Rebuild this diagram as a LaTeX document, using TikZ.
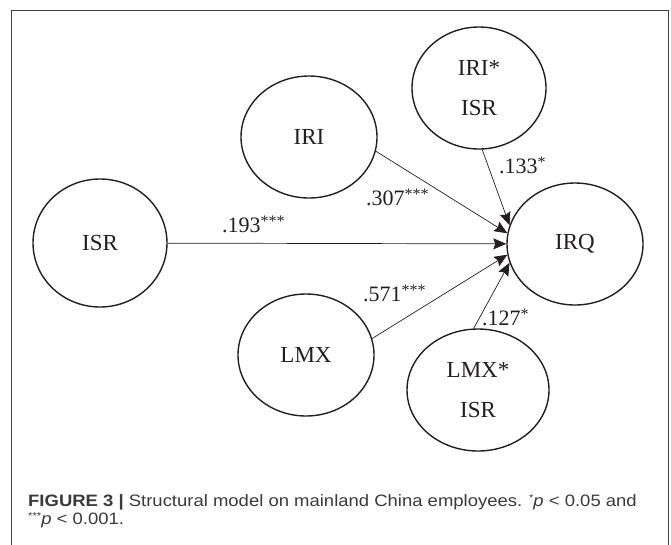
\documentclass[tikz,border=0pt]{standalone}
\usepackage{fontspec}
\setmainfont{Liberation Serif}
\newfontfamily\capfont[FakeStretch=1.12]{Liberation Sans}
\usetikzlibrary{shapes.geometric,arrows.meta}
\definecolor{ink}{HTML}{231F20}
\definecolor{capink}{HTML}{3A3A3A}
\newcommand{\sigstars}[1]{\raisebox{6pt}{\fontsize{16}{16}\selectfont #1}}
\newcommand{\capstar}[1]{\raisebox{5pt}{\fontsize{10}{10}\selectfont #1}}
\tikzset{
  latent/.style={ellipse, draw=ink, line width=1.4pt, inner sep=0pt, text=ink,
    font=\fontsize{23}{40}\selectfont, align=center},
  coef/.style={font=\fontsize{22}{26}\selectfont, anchor=base west, inner sep=0pt, text=ink},
  link/.style={draw=ink, line width=0.7pt, -{Stealth[length=13pt,width=11pt,inset=2pt]}},
  captxt/.style={font=\capfont\fontsize{16.5}{18}\selectfont, anchor=base west, inner sep=0pt, text=capink},
  frame/.style={draw=black!75, line width=1pt}
}
\begin{document}
\begin{tikzpicture}[x=1pt,y=-1pt]
\useasboundingbox (0,0) rectangle (671,544);
\draw[frame] (11,560) -- (11,10) -- (668,10) -- (668,560);

\node[latent, minimum width=134pt, minimum height=128pt] (ISR) at (100,243) {ISR};
\node[latent, minimum width=136pt, minimum height=122pt] (IRI) at (309,137) {IRI};
\node[latent, minimum width=136pt, minimum height=122pt] (LMX) at (306,355) {LMX};
\node[latent, minimum width=136pt, minimum height=122pt] (IRQ) at (575,244) {IRQ};
\node[latent, minimum width=134pt, minimum height=122pt] (IRIx) at (479,88) {IRI*\\ISR};
\node[latent, minimum width=142pt, minimum height=122pt] (LMXx) at (478,390) {LMX*\\ISR};

\draw[link] (ISR) -- (IRQ);
\draw[link] (IRI.-12) -- (IRQ.171);
\draw[link] (LMX.14) -- (IRQ.189);
\draw[link] (IRIx.-87) -- (IRQ.164);
\draw[link] (LMXx.94) -- (IRQ.196);

\node[coef] (c1) at (222,232) {.193\sigstars{***}};
\node[coef] (c2) at (366,205) {.307\sigstars{***}};
\node[coef] (c3) at (363,301) {.571\sigstars{***}};
\node[coef] (c4) at (499,173) {.133\sigstars{*}};
\node[coef] (c5) at (482,325) {.127\sigstars{*}};

\node[captxt] (cap1) at (28,506) {\textbf{FIGURE 3 |} Structural model on mainland China employees. \capstar{*}\textit{p} < 0.05 and};
\node[captxt] (cap2) at (28,524) {\capstar{***}\textit{p} < 0.001.};
\end{tikzpicture}
\end{document}
